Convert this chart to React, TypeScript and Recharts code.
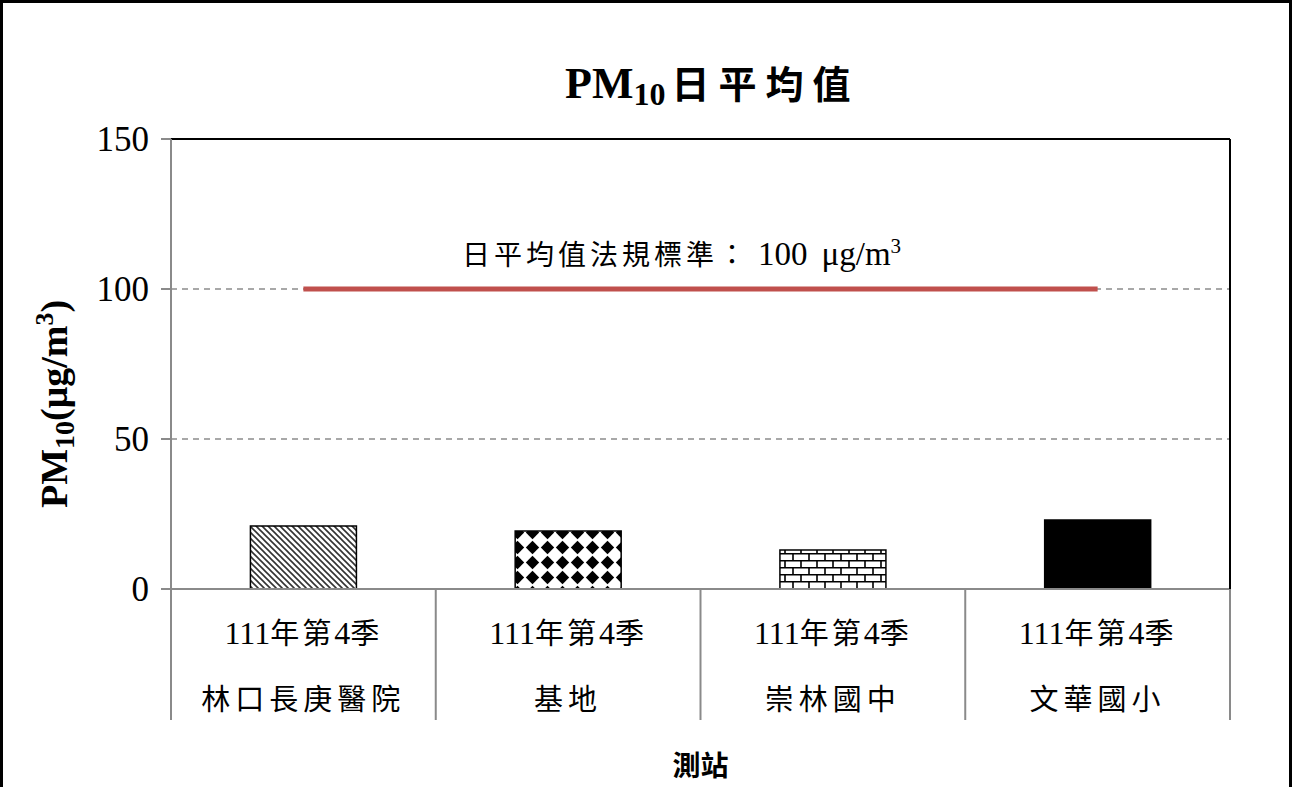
import React from "react";
import {
  ComposedChart,
  Bar,
  Line,
  XAxis,
  YAxis,
  CartesianGrid,
  Cell,
  ReferenceLine,
} from "recharts";

const periods = ["111年第4季", "111年第4季", "111年第4季", "111年第4季"];
const stations = ["林口長庚醫院", "基地", "崇林國中", "文華國小"];
const pm10 = [21, 19.3, 13, 23];
const standard = [100, 100, 100, 100];
const yTicks = [0, 50, 100, 150];
const fills = ["url(#hatch)", "url(#diamond)", "url(#brick)", "#000"];

const data = stations.map((s, i) => ({
  station: s,
  period: periods[i],
  pm10: pm10[i],
  standard: standard[i],
}));

const W = 1292;
const H = 787;
const LEFT = 171;
const RIGHT = 61;
const PLOT_W = W - LEFT - RIGHT - 1;
const SERIF = '"Liberation Serif", "Noto Sans CJK TC", serif';
const AXIS = "#8a8a8a";

const CJK = /[\u3000-\u9fff\uff00-\uffef]/;

// split text into latin / cjk runs so each gets its own size
function mixed(text: string, latin: number, cjk: number, gap = 0) {
  const runs: { t: string; c: boolean }[] = [];
  for (const ch of text) {
    const c = CJK.test(ch);
    const last = runs[runs.length - 1];
    if (last && last.c === c) last.t += ch;
    else runs.push({ t: ch, c });
  }
  return runs.map((r, i) => (
    <tspan key={i} fontSize={r.c ? cjk : latin} letterSpacing={r.c ? gap : 0}>
      {r.t}
    </tspan>
  ));
}

function StationTick(props: any) {
  const { x, y, payload, index } = props;
  const half = PLOT_W / stations.length / 2;
  return (
    <g>
      <line x1={x - half} x2={x - half} y1={y} y2={y + 131} stroke={AXIS} strokeWidth={2} />
      {index === stations.length - 1 && (
        <line x1={x + half} x2={x + half} y1={y} y2={y + 131} stroke={AXIS} strokeWidth={2} />
      )}
      <text x={x} y={y + 55} textAnchor="middle" fontFamily={SERIF} fill="#000">
        {mixed(periods[index], 32, 29, 3)}
      </text>
      <text x={x} y={y + 121} textAnchor="middle" fontFamily={SERIF} fill="#000">
        {mixed(payload.value, 31, 29, 5)}
      </text>
    </g>
  );
}

function XTitle(props: any) {
  const vb = props.viewBox || { x: LEFT, y: 589, width: PLOT_W };
  return (
    <text
      x={vb.x + vb.width / 2}
      y={vb.y + 187}
      textAnchor="middle"
      fontFamily={SERIF}
      fontWeight="bold"
      fontSize={28}
      fill="#000"
    >
      測站
    </text>
  );
}

function YTitle() {
  const cx = 67;
  const cy = 404;
  return (
    <text
      x={cx}
      y={cy}
      transform={`rotate(-90 ${cx} ${cy})`}
      textAnchor="middle"
      fontFamily={SERIF}
      fontWeight="bold"
      fontSize={38}
      fill="#000"
    >
      PM
      <tspan fontSize={28} dy={7}>10</tspan>
      <tspan dy={-7}>(μg/m</tspan>
      <tspan fontSize={26} dy={-14}>3</tspan>
      <tspan dy={14}>)</tspan>
    </text>
  );
}

function StdLabel(props: any) {
  const vb = props.viewBox || { x: LEFT, y: 289 };
  return (
    <text x={vb.x + 291} y={vb.y - 24} fontFamily={SERIF} fill="#000">
      {mixed("日平均值法規標準：", 30, 28, 4)}
      <tspan fontSize={33} dx={8}>100</tspan>
      <tspan fontSize={33} dx={14}>μg/m</tspan>
      <tspan fontSize={21} dy={-12}>3</tspan>
    </text>
  );
}

export default function App() {
  return (
    <div
      style={{
        position: "absolute",
        left: 0,
        top: 0,
        width: W,
        height: H,
        background: "#fff",
        overflow: "hidden",
      }}
    >
      <ComposedChart
        width={W}
        height={H}
        data={data}
        margin={{ top: 139, right: RIGHT, bottom: 0, left: 0 }}
        barCategoryGap="30%"
      >
        <defs>
          <pattern id="hatch" patternUnits="userSpaceOnUse" width={6} height={6}>
            <rect width={6} height={6} fill="#fff" />
            <path d="M-1,-1 L7,7 M-1,5 L1,7 M5,-1 L7,1" stroke="#333" strokeWidth={1.6} />
          </pattern>
          <pattern id="diamond" patternUnits="userSpaceOnUse" width={15} height={15}>
            <rect width={15} height={15} fill="#fff" />
            <path d="M7.5,0.8 L14.2,7.5 L7.5,14.2 L0.8,7.5 Z" fill="#000" />
          </pattern>
          <pattern id="brick" patternUnits="userSpaceOnUse" width={16} height={14}>
            <rect width={16} height={14} fill="#fff" />
            <path d="M0,0.75 H16 M0,7.75 H16 M1,0 V7 M9,7 V14" stroke="#000" strokeWidth={1.6} />
          </pattern>
        </defs>
        <CartesianGrid vertical={false} stroke="#8c8c8c" strokeDasharray="6 5" strokeWidth={1.5} />
        <XAxis
          dataKey="station"
          height={198}
          interval={0}
          tickLine={false}
          tickSize={0}
          tickMargin={0}
          axisLine={{ stroke: AXIS, strokeWidth: 2 }}
          tick={<StationTick />}
          label={<XTitle />}
        />
        <YAxis
          width={LEFT}
          domain={[0, 150]}
          ticks={yTicks}
          interval={0}
          tickSize={10}
          tickMargin={12}
          tickLine={{ stroke: AXIS, strokeWidth: 2 }}
          axisLine={{ stroke: AXIS, strokeWidth: 2 }}
          tick={{ fill: "#000", fontSize: 35, fontFamily: SERIF }}
          label={<YTitle />}
        />
        <YAxis
          yAxisId="frame"
          orientation="right"
          width={1}
          domain={[0, 150]}
          tick={false}
          tickLine={false}
          axisLine={{ stroke: "#000", strokeWidth: 2 }}
        />
        <ReferenceLine y={150} stroke="#000" strokeWidth={2} />
        <ReferenceLine y={100} stroke="none" label={<StdLabel />} />
        <Bar dataKey="pm10" stroke="#000" strokeWidth={1.5} isAnimationActive={false}>
          {data.map((d, i) => (
            <Cell key={d.station} fill={fills[i]} />
          ))}
        </Bar>
        <Line
          dataKey="standard"
          stroke="#C0504D"
          strokeWidth={5}
          dot={false}
          activeDot={false}
          isAnimationActive={false}
        />
      </ComposedChart>
      <svg
        width={W}
        height={H}
        style={{ position: "absolute", left: 0, top: 0, pointerEvents: "none" }}
      >
        <text x={565} y={98} fontFamily={SERIF} fontWeight="bold" fill="#000">
          <tspan fontSize={44}>PM</tspan>
          <tspan fontSize={32} dy={7}>10</tspan>
          <tspan fontSize={38} dy={-7} letterSpacing={9} dx={6}>日平均值</tspan>
        </text>
      </svg>
      <div
        style={{
          position: "absolute",
          left: 0,
          top: 0,
          width: W,
          height: H,
          boxSizing: "border-box",
          borderTop: "3px solid #000",
          borderLeft: "3px solid #000",
          borderRight: "3px solid #000",
          pointerEvents: "none",
        }}
      />
    </div>
  );
}
